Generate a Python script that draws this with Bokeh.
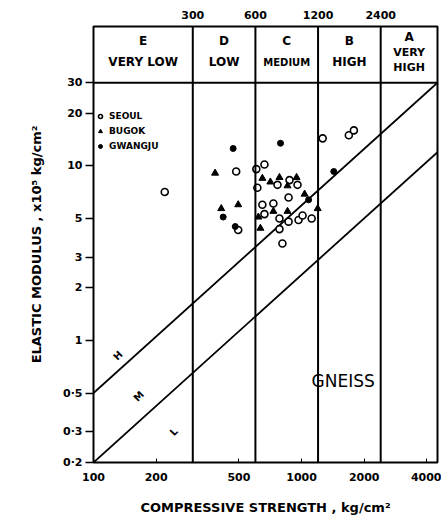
import numpy as np
from bokeh.plotting import figure
from bokeh.models import LogAxis, FixedTicker, Span, Legend, LegendItem, Range1d
from bokeh.core.properties import value
from bokeh.embed import file_html
from bokeh.resources import INLINE

# ---------------- data ----------------
seoul_x = [485, 220, 496, 663, 606, 766, 875, 956, 613, 866, 648, 732, 663, 783,
           866, 967, 1011, 1118, 783, 809, 1263, 1687, 1784]
seoul_y = [9.3, 7.1, 4.3, 10.2, 9.6, 7.8, 8.3, 7.8, 7.5, 6.6, 6.0, 6.1, 5.3, 5.0,
           4.8, 4.9, 5.2, 5.0, 4.35, 3.6, 14.4, 15.0, 16.0]

bugok_x = [384, 496, 411, 648, 783, 946, 708, 856, 1034, 732, 856, 620, 1195, 634]
bugok_y = [9.1, 6.0, 5.7, 8.5, 8.6, 8.6, 8.1, 7.7, 6.9, 5.5, 5.5, 5.1, 5.7, 4.4]

gwangju_x = [469, 420, 480, 792, 1081, 1428]
gwangju_y = [12.6, 5.1, 4.5, 13.5, 6.4, 9.3]

# modulus-ratio lines (H and M), end points
line_h_x = [100, 4500]
line_h_y = [0.5, 30]
line_m_x = [100, 4500]
line_m_y = [0.2, 12]

# strength classes
class_bounds = [100, 300, 600, 1200, 2400, 4500]
class_letters = ["E", "D", "C", "B", "A"]
class_names = ["VERY LOW", "LOW", "MEDIUM", "HIGH"]
class_a_name = ["VERY", "HIGH"]
top_ticks = [300, 600, 1200, 2400]

x_ticks = [100, 200, 500, 1000, 2000, 4000]
x_tick_labels = ["100", "200", "500", "1000", "2000", "4000"]
y_ticks = [0.2, 0.3, 0.5, 1, 2, 3, 5, 10, 20, 30]
y_tick_labels = ["0·2", "0·3", "0·5", "1", "2", "3", "5", "10", "20", "30"]

X_MIN, X_MAX = 100, 4500
Y_MIN, Y_BAND, Y_TOP = 0.2, 30, 63

FONT = "DejaVu Sans"

p = figure(width=441, height=520, x_axis_type="log", y_axis_type="log",
           x_range=Range1d(X_MIN, X_MAX), y_range=Range1d(Y_MIN, Y_TOP),
           output_backend="svg", toolbar_location=None,
           min_border_left=93, min_border_right=4, min_border_top=26,
           min_border_bottom=58, background_fill_color="white",
           border_fill_color="white")
p.xgrid.visible = False
p.ygrid.visible = False
p.outline_line_color = "black"
p.outline_line_width = 2

# axes
xa = p.xaxis[0]
xa.ticker = FixedTicker(ticks=x_ticks)
xa.major_label_overrides = {t: l for t, l in zip(x_ticks, x_tick_labels)}
xa.minor_tick_line_color = None
xa.major_tick_in = 4
xa.major_tick_out = 0
xa.major_tick_line_color = "black"
xa.major_label_standoff = 10
xa.axis_line_color = None
xa.major_label_text_font = FONT
xa.major_label_text_font_style = "bold"
xa.major_label_text_font_size = "11px"
xa.major_label_text_color = "black"
xa.axis_label = "COMPRESSIVE STRENGTH , kg/cm²"
xa.axis_label_text_font = FONT
xa.axis_label_text_font_style = "bold"
xa.axis_label_text_font_size = "13px"
xa.axis_label_text_color = "black"
xa.axis_label_standoff = 16

ya = p.yaxis[0]
ya.ticker = FixedTicker(ticks=y_ticks)
ya.major_label_overrides = {t: l for t, l in zip(y_ticks, y_tick_labels)}
ya.minor_tick_line_color = None
ya.major_tick_in = 0
ya.major_tick_out = 8
ya.major_tick_line_width = 1.5
ya.major_tick_line_color = "black"
ya.major_label_standoff = 3
ya.axis_line_color = None
ya.major_label_text_font = FONT
ya.major_label_text_font_style = "bold"
ya.major_label_text_font_size = "11px"
ya.major_label_text_color = "black"
ya.axis_label = "ELASTIC MODULUS , x10⁵ kg/cm²"
ya.axis_label_text_font = FONT
ya.axis_label_text_font_style = "bold"
ya.axis_label_text_font_size = "13px"
ya.axis_label_text_color = "black"
ya.axis_label_standoff = 16

top = LogAxis(ticker=FixedTicker(ticks=top_ticks),
              major_label_overrides={t: str(t) for t in top_ticks},
              major_tick_in=0, major_tick_out=0, minor_tick_line_color=None,
              axis_line_color=None, major_label_standoff=8,
              major_label_text_font=FONT, major_label_text_font_style="bold",
              major_label_text_font_size="11px", major_label_text_color="black")
p.add_layout(top, "above")

# class boundaries and band line
for b in class_bounds[1:-1]:
    p.add_layout(Span(location=b, dimension="height", line_color="black", line_width=2))
p.add_layout(Span(location=Y_BAND, dimension="width", line_color="black", line_width=2))

# ratio lines
p.line(line_h_x, line_h_y, line_color="black", line_width=1.8)
p.line(line_m_x, line_m_y, line_color="black", line_width=1.8)

# band texts
cx = [float(np.sqrt(a * b)) for a, b in zip(class_bounds[:-1], class_bounds[1:])]

def band_y(frac):
    return Y_BAND * (Y_TOP / Y_BAND) ** frac

p.text(x=cx, y=[band_y(0.75)] * 4 + [band_y(0.82)], text=class_letters,
       text_align="center", text_baseline="middle", text_font=value(FONT),
       text_font_style="bold", text_font_size="12px", text_color="black")
p.text(x=cx[:4], y=[band_y(0.36)] * 4, text=class_names,
       text_align="center", text_baseline="middle", text_font=value(FONT),
       text_font_style="bold",
       text_font_size=["12px", "12px", "10px", "12px"], text_color="black")
p.text(x=[cx[4], cx[4]], y=[band_y(0.54), band_y(0.27)], text=class_a_name,
       text_align="center", text_baseline="middle", text_font=value(FONT),
       text_font_style="bold", text_font_size="11px", text_color="black")

# line labels
p.text(x=[131, 165, 243], y=[0.82, 0.48, 0.30], text=["H", "M", "L"],
       angle=0.8, text_align="center", text_baseline="middle",
       text_font=value(FONT), text_font_style="bold", text_font_size="10px",
       text_color="black")

# rock name
p.text(x=[1117], y=[0.59], text=["GNEISS"], text_align="left",
       text_baseline="middle", text_font=value(FONT), text_font_size="17px",
       text_color="black")

# points
r_s = p.scatter(seoul_x, seoul_y, marker="circle", size=7, fill_color="white",
                line_color="black", line_width=1.6)
r_b = p.scatter(bugok_x, bugok_y, marker="triangle", size=7, fill_color="black",
                line_color="black", line_width=1)
r_g = p.scatter(gwangju_x, gwangju_y, marker="circle", size=6, fill_color="black",
                line_color="black", line_width=1)

legend = Legend(items=[LegendItem(label="SEOUL", renderers=[r_s]),
                       LegendItem(label="BUGOK", renderers=[r_b]),
                       LegendItem(label="GWANGJU", renderers=[r_g])],
                location=(2, 310), margin=0, padding=2, spacing=3,
                glyph_width=10, glyph_height=12, label_height=12,
                label_standoff=4, label_text_font=FONT,
                label_text_font_style="bold", label_text_font_size="9px",
                label_text_color="black",
                background_fill_alpha=0, border_line_color=None)
p.add_layout(legend)

open("out.html", "w").write(file_html(p, INLINE))
